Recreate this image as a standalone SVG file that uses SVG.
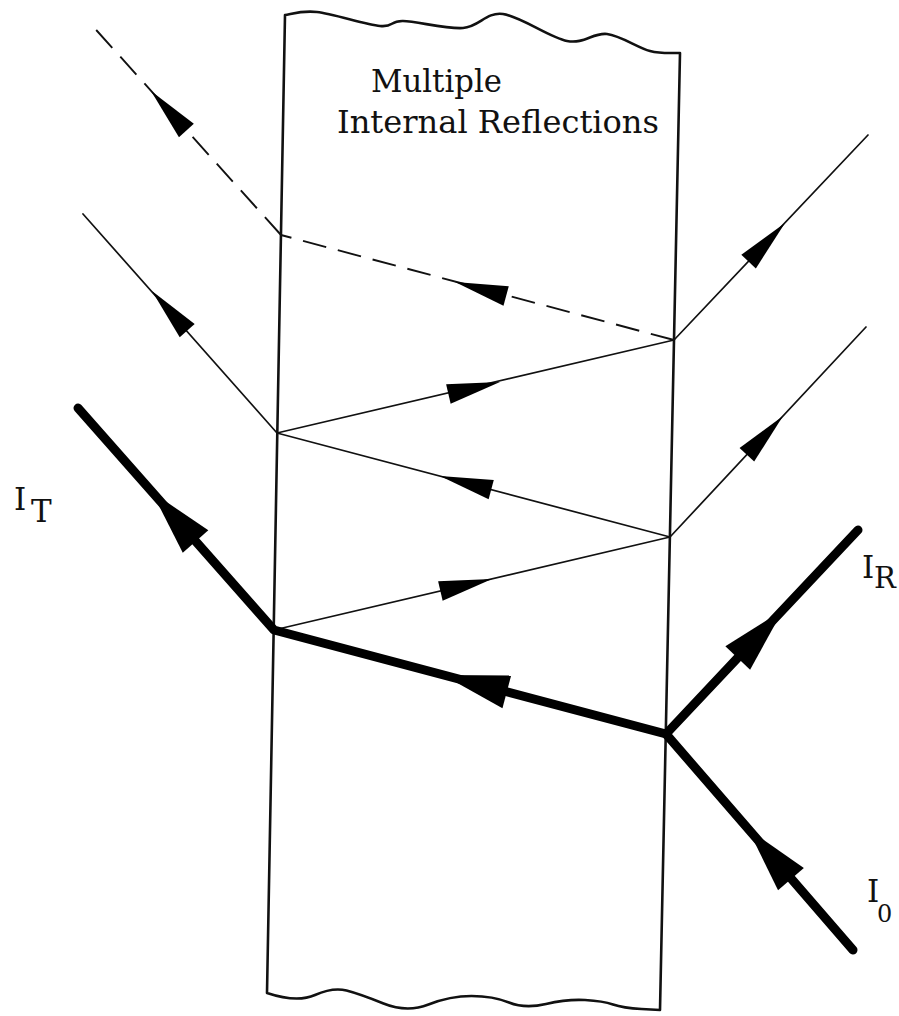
<svg xmlns="http://www.w3.org/2000/svg" xmlns:xlink="http://www.w3.org/1999/xlink" width="899" height="1016" viewBox="0 0 899 1016">
<style>
.box{fill:none;stroke:#111;stroke-width:2.6;stroke-linejoin:round}
.thin{fill:none;stroke:#111;stroke-width:1.7;stroke-linecap:round}
.dash{fill:none;stroke:#111;stroke-width:1.9;stroke-dasharray:24 12}
.bold{fill:none;stroke:#000;stroke-width:9;stroke-linecap:round;stroke-linejoin:round}
.ah{fill:#000}
.lbl{font-family:"DejaVu Serif","Liberation Serif",serif;fill:#111}
</style>
<defs>
<path id="ah" d="M0,0 L-53,-10 L-53,10 Z"/>
<path id="ahb" d="M0,0 L-66,-17 L-66,17 Z"/>
</defs>
<rect width="899" height="1016" fill="#fff"/>
<g id="slab">
<path class="box" d="M285,15 C290.3,14.5 301.2,10.2 317,12 C332.8,13.8 365.7,24.5 380,26 C394.3,27.5 389.2,20.7 403,21 C416.8,21.3 446.3,29.2 463,28 C479.7,26.8 485.7,11.8 503,14 C520.3,16.2 549.7,37.7 567,41 C584.3,44.3 593.2,32.3 607,34 C620.8,35.7 637.8,47.8 650,51 C662.2,54.2 675,52.7 680,53 L660,1010 L641.5,1009 Q623,1008 613,1004.5 Q603,1001 585,1000 Q567,999 546,1004 Q525,1009 509,1002.5 Q493,996 471.5,996 Q450,996 428.5,1004.5 Q407,1013 383.5,1003.5 Q360,994 346.5,990.5 Q333,987 315,995 Q297,1003 267,993 Z"/>
<text class="lbl" x="371" y="92" font-size="31" textLength="131" lengthAdjust="spacingAndGlyphs">Multiple</text>
<text class="lbl" x="337" y="133" font-size="31" textLength="322" lengthAdjust="spacingAndGlyphs">Internal Reflections</text>
</g>
<g id="connectors">
<line class="thin" x1="274" y1="630" x2="670" y2="537"/>
<line class="thin" x1="670" y1="537" x2="277" y2="433"/>
<line class="thin" x1="670" y1="537" x2="866" y2="327"/>
<line class="thin" x1="277" y1="433" x2="83" y2="214"/>
<line class="thin" x1="277" y1="433" x2="674" y2="340"/>
<line class="thin" x1="674" y1="340" x2="868" y2="135"/>
<line class="dash" x1="674" y1="340" x2="281" y2="235"/>
<line class="dash" x1="281" y1="235" x2="89" y2="22"/>
<polyline class="bold" points="78,408 274,630 666,734 853,950"/>
<line class="bold" x1="666" y1="734" x2="858" y2="530"/>
<use xlink:href="#ah" class="ah" transform="translate(151,91) rotate(228.1)"/>
<use xlink:href="#ah" class="ah" transform="translate(455,282) rotate(195.3)"/>
<use xlink:href="#ah" class="ah" transform="translate(500,382) rotate(-13.1)"/>
<use xlink:href="#ah" class="ah" transform="translate(440,476) rotate(194.9)"/>
<use xlink:href="#ah" class="ah" transform="translate(492,579) rotate(-13.1)"/>
<use xlink:href="#ah" class="ah" transform="translate(785,223) rotate(-46.6)"/>
<use xlink:href="#ah" class="ah" transform="translate(783,416) rotate(-47)"/>
<use xlink:href="#ah" class="ah" transform="translate(152,291) rotate(228.4)"/>
<use xlink:href="#ahb" class="ah" transform="translate(152,492) rotate(228.7)"/>
<use xlink:href="#ahb" class="ah" transform="translate(443,675) rotate(194.8)"/>
<use xlink:href="#ahb" class="ah" transform="translate(783,610) rotate(-46.7)"/>
<use xlink:href="#ahb" class="ah" transform="translate(748,829) rotate(229.4)"/>
</g>
<g id="label-IT"><text class="lbl" x="14" y="510" font-size="31">I</text><text class="lbl" x="31" y="522" font-size="31">T</text></g>
<g id="label-IR"><text class="lbl" x="862" y="578" font-size="31">I</text><text class="lbl" x="874" y="588" font-size="29">R</text></g>
<g id="label-IO"><text class="lbl" x="867" y="902" font-size="31">I</text><text class="lbl" x="877" y="922" font-size="24">0</text></g>
</svg>
